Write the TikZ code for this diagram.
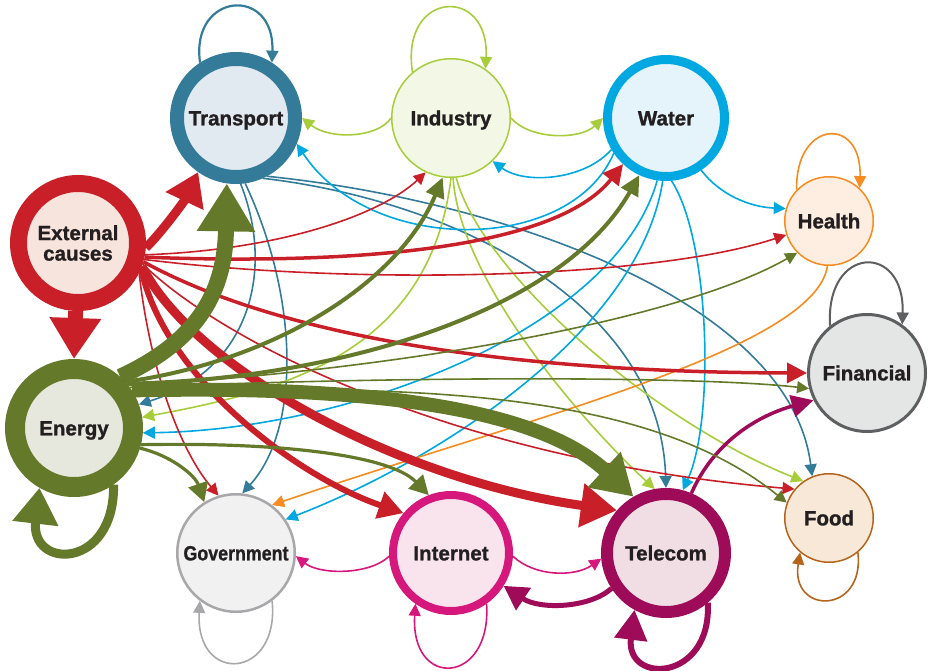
\documentclass[tikz,border=0pt]{standalone}
\usepackage{fontspec}
\usepackage{graphicx}
\setmainfont{Liberation Sans}[BoldFeatures={FakeBold=1.2}]
\usetikzlibrary{arrows.meta}
\definecolor{ink}{HTML}{231F20}
\definecolor{cT}{HTML}{347B9A}\definecolor{fT}{HTML}{E2EAF1}
\definecolor{cI}{HTML}{A7CD3B}\definecolor{fI}{HTML}{F3F8E6}
\definecolor{cW}{HTML}{00A8E1}\definecolor{fW}{HTML}{E5F3FB}
\definecolor{cH}{HTML}{F68B1F}\definecolor{fH}{HTML}{FDEEE1}
\definecolor{cX}{HTML}{C91F29}\definecolor{fX}{HTML}{F7E4DC}
\definecolor{cF}{HTML}{5E5F61}\definecolor{fF}{HTML}{E4E5E5}
\definecolor{cE}{HTML}{64792A}\definecolor{fE}{HTML}{E7E8DD}
\definecolor{cD}{HTML}{B5641C}\definecolor{fD}{HTML}{F7E8D8}
\definecolor{cG}{HTML}{A8A7AA}\definecolor{fG}{HTML}{F1F1F1}
\definecolor{cN}{HTML}{D6177B}\definecolor{fN}{HTML}{F9E4EE}
\definecolor{cC}{HTML}{9E0B58}\definecolor{fC}{HTML}{F1DEE5}
\pgfdeclarelayer{bg}
\pgfsetlayers{bg,main}
\tikzset{
  hub/.style={circle, inner sep=0pt, align=center, text=ink,
    font=\bfseries\fontsize{20.5}{20.5}\selectfont},
  oneline/.style={text height=14.7pt, text depth=0pt},
  thinedge/.style={line width=1.6pt, -{Triangle[length=12pt,width=12pt]}},
  mededge/.style={line width=3.5pt, -{Triangle[length=20pt,width=20pt]}},
}
\begin{document}
\begin{tikzpicture}[x=1pt,y=-1pt]
\useasboundingbox (0,0) rectangle (929,670);
% nodes
\node[hub, oneline, draw=cT, fill=fT, line width=14pt, minimum size=118pt] (trans) at (236,118) {Transport};
\node[hub, oneline, draw=cI, fill=fI, line width=1.5pt, minimum size=118.5pt] (indus) at (451,118) {Industry};
\node[hub, oneline, draw=cW, fill=fW, line width=9pt, minimum size=117pt] (water) at (666,118) {Water};
\node[hub, oneline, draw=cH, fill=fH, line width=1.5pt, minimum size=88.5pt] (health) at (829,221) {Health};
\node[hub, draw=cX, fill=fX, line width=17pt, minimum size=119pt] (ext) at (78,243) {External\\causes};
\node[hub, oneline, draw=cF, fill=fF, line width=3pt, minimum size=117pt] (fin) at (867,373) {Financial};
\node[hub, oneline, draw=cE, fill=fE, line width=20pt, minimum size=118pt] (energy) at (74,428) {Energy};
\node[hub, oneline, draw=cD, fill=fD, line width=1.5pt, minimum size=88.5pt] (food) at (829,518) {Food};
\node[hub, oneline, draw=cG, fill=fG, line width=2.5pt, minimum size=117.5pt] (gov) at (236,553) {\scalebox{0.87}[1]{Government}};
\node[hub, oneline, draw=cN, fill=fN, line width=8pt, minimum size=116pt] (inet) at (451,553) {Internet};
\node[hub, oneline, draw=cC, fill=fC, line width=12pt, minimum size=118pt] (tel) at (666,553) {Telecom};

\begin{pgfonlayer}{bg}
% ---- Transport (steel blue)
\draw[thinedge, cT] (trans.274) .. controls (275,270) and (250,370) .. (energy.20);
\draw[thinedge, cT] (trans.278) .. controls (300,300) and (300,430) .. (gov.84);
\draw[thinedge, cT] (trans.294) .. controls (450,200) and (660,300) .. (tel.90);
\draw[thinedge, cT] (trans.298) .. controls (500,200) and (790,300) .. (food.112);
\draw[thinedge, cT, line width=2.2pt] (trans.123) .. controls (190,-8) and (275,-15) .. (trans.57);
% ---- Industry (yellow green)
\draw[thinedge, cI] (indus.180) .. controls (378,138) and (330,140) .. (trans.0);
\draw[thinedge, cI] (indus.0) .. controls (530,140) and (580,140) .. (water.180);
\draw[thinedge, cI] (indus.270) .. controls (430,350) and (290,390) .. (energy.9);
\draw[thinedge, cI] (indus.272) .. controls (460,280) and (580,420) .. (tel.100);
\draw[thinedge, cI] (indus.275) .. controls (480,270) and (650,420) .. (food.125);
\draw[thinedge, cI] (indus.130) .. controls (400,-10) and (490,-15) .. (indus.55);
% ---- Water (blue)
\draw[thinedge, cW] (water.210) .. controls (585,180) and (525,185) .. (indus.314);
\draw[thinedge, cW] (water.214) .. controls (570,255) and (370,255) .. (trans.337);
\draw[thinedge, cW] (water.262) .. controls (615,330) and (350,430) .. (energy.356);
\draw[thinedge, cW] (water.267) .. controls (640,330) and (440,460) .. (gov.34);
\draw[thinedge, cW] (water.304) .. controls (720,195) and (750,207) .. (health.164);
\draw[thinedge, cW] (water.275) .. controls (710,240) and (715,420) .. (tel.75);
% ---- Health (orange)
\draw[thinedge, cH] (health.268) .. controls (815,350) and (520,420) .. (gov.53);
\draw[thinedge, cH] (health.136) .. controls (795,120) and (862,115) .. (health.47);
% ---- Financial, Food, Government loops
\draw[thinedge, cF, line width=2pt] (fin.128) .. controls (825,245) and (905,242) .. (fin.54);
\draw[thinedge, cD] (food.310) .. controls (865,615) and (790,615) .. (food.230);
\draw[thinedge, cG] (gov.307) .. controls (280,680) and (195,685) .. (gov.233);
% ---- Internet (magenta)
\draw[thinedge, cN] (inet.305) .. controls (492,685) and (410,690) .. (inet.235);
\draw[thinedge, cN] (inet.183) .. controls (370,575) and (320,575) .. (gov.357);
\draw[thinedge, cN] (inet.357) .. controls (535,577) and (575,577) .. (tel.185);
% ---- Telecom (dark magenta)
\draw[cC, line width=6pt, -{Triangle[length=30pt,width=32pt]}] (tel.310) .. controls (712,682) and (625,685) .. (tel.241);
\draw[cC, line width=5pt, -{Triangle[length=24pt,width=26pt]}] (tel.213) .. controls (590,608) and (540,610) .. (inet.328);
\draw[cC, line width=3.5pt, -{Triangle[length=22pt,width=22pt]}] (tel.67) .. controls (715,440) and (760,415) .. (fin.207);
% ---- External causes (red)
\draw[thinedge, cX] (ext.-10) .. controls (280,250) and (380,215) .. (indus.245);
\draw[mededge, cX] (ext.-12) .. controls (350,265) and (555,250) .. (water.227);
\draw[thinedge, cX] (ext.-14) .. controls (350,285) and (650,280) .. (health.198);
\draw[mededge, cX] (ext.-16) .. controls (240,315) and (430,372) .. (fin.180);
\draw[thinedge, cX] (ext.-18) .. controls (220,340) and (450,460) .. (food.140);
\draw[cX, line width=9pt, -{Triangle[length=36pt,width=42pt]}] (ext.-20) .. controls (195,370) and (400,480) .. (tel.139);
\draw[cX, line width=6pt, -{Triangle[length=25pt,width=27pt]}] (ext.-22) .. controls (165,380) and (300,478) .. (inet.140);
\draw[thinedge, cX] (ext.-26) .. controls (150,370) and (180,450) .. (gov.107);
\draw[cX, line width=9pt, -{Triangle[length=32pt,width=40pt]}] (ext.-4) .. controls (162,232) and (185,200) .. (trans.235);
\draw[cX, line width=15pt, -{Triangle[length=41pt,width=49pt]}] (ext.268) -- (energy.90);
% ---- Energy (olive)
\draw[cE, line width=4pt, -{Triangle[length=20pt,width=19pt]}] (energy.42) .. controls (280,360) and (400,280) .. (indus.262);
\draw[cE, line width=4pt, -{Triangle[length=20pt,width=19pt]}] (energy.40) .. controls (330,380) and (560,315) .. (water.245);
\draw[thinedge, cE] (energy.38) .. controls (400,370) and (680,320) .. (health.225);
\draw[thinedge, cE] (energy.36) .. controls (400,376) and (700,376) .. (fin.195);
\draw[thinedge, cE] (energy.30) .. controls (450,380) and (660,400) .. (food.160);
\draw[cE, line width=3.2pt, -{Triangle[length=19pt,width=20pt]}] (energy.-14) .. controls (280,442) and (390,455) .. (inet.111);
\draw[cE, line width=3.2pt, -{Triangle[length=19pt,width=20pt]}] (energy.-17) .. controls (170,455) and (195,475) .. (gov.122);
\draw[cE, line width=14pt, -{Triangle[length=40pt,width=46pt]}] (energy.33) .. controls (380,385) and (540,410) .. (tel.120);
\draw[cE, line width=16pt, -{Triangle[length=48pt,width=55pt]}] (energy.48) .. controls (200,340) and (225,290) .. (trans.262);
\draw[cE, line width=9pt, -{Triangle[length=36pt,width=44pt]}] (energy.-55) .. controls (115,570) and (30,570) .. (energy.240);
\end{pgfonlayer}
\end{tikzpicture}
\end{document}
